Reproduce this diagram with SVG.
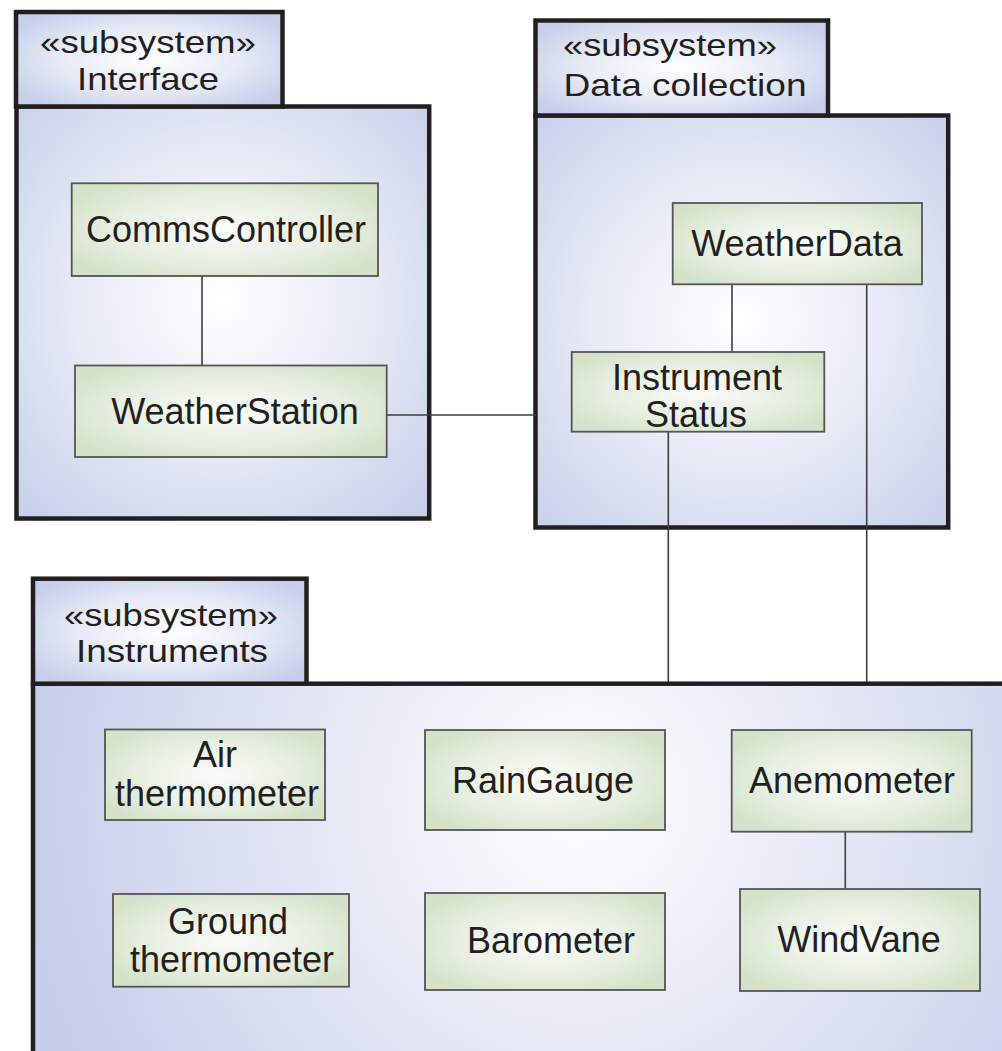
<svg xmlns="http://www.w3.org/2000/svg" width="1002" height="1051" viewBox="0 0 1002 1051">
  <defs>
    <radialGradient id="tabFill" cx="0.5" cy="0.5" r="0.62">
      <stop offset="0" stop-color="#ffffff"/>
      <stop offset="0.55" stop-color="#e6eaf6"/>
      <stop offset="1" stop-color="#c6cee9"/>
    </radialGradient>
    <radialGradient id="bodyInterface" gradientUnits="userSpaceOnUse" cx="222" cy="300" r="300">
      <stop offset="0" stop-color="#ffffff"/>
      <stop offset="0.5" stop-color="#e6eaf6"/>
      <stop offset="1" stop-color="#c6cee9"/>
    </radialGradient>
    <radialGradient id="bodyData" gradientUnits="userSpaceOnUse" cx="740" cy="320" r="300">
      <stop offset="0" stop-color="#ffffff"/>
      <stop offset="0.5" stop-color="#e6eaf6"/>
      <stop offset="1" stop-color="#c6cee9"/>
    </radialGradient>
    <radialGradient id="bodyInstr" gradientUnits="userSpaceOnUse" cx="580" cy="800" r="560">
      <stop offset="0" stop-color="#ffffff"/>
      <stop offset="0.5" stop-color="#e3e7f5"/>
      <stop offset="1" stop-color="#c6cee9"/>
    </radialGradient>
    <radialGradient id="nodeFill" cx="0.5" cy="0.5" r="0.6">
      <stop offset="0" stop-color="#fbfcf9"/>
      <stop offset="0.6" stop-color="#e7efe1"/>
      <stop offset="1" stop-color="#d4e2ca"/>
    </radialGradient>
    <style>
      .pkg { stroke: #231f20; stroke-width: 4.5; }
      .tab { fill: url(#tabFill); }
      .node { fill: url(#nodeFill); stroke: #555555; stroke-width: 1.8; }
      .lbl { font-family: "Liberation Sans", Arial, sans-serif; font-size: 36px; fill: #231f20; text-anchor: middle; }
      .tabLbl { font-size: 32px; }
      .link { stroke: #3d3d3d; stroke-width: 1.6; fill: none; }
    </style>
  </defs>

  <!-- Package: Interface -->
  <g id="pkg-interface">
    <rect class="pkg" x="16.5" y="106.5" width="412.7" height="412" fill="url(#bodyInterface)"/>
    <rect class="pkg tab" x="16" y="12" width="266.5" height="94.5"/>
    <text class="lbl tabLbl" x="148" y="53" textLength="216" lengthAdjust="spacingAndGlyphs">«subsystem»</text>
    <text class="lbl tabLbl" x="148" y="90" textLength="142" lengthAdjust="spacingAndGlyphs">Interface</text>
  </g>

  <!-- Package: Data collection -->
  <g id="pkg-data-collection">
    <rect class="pkg" x="535.5" y="115.5" width="412.7" height="412" fill="url(#bodyData)"/>
    <rect class="pkg tab" x="535.5" y="20.5" width="292.5" height="95"/>
    <text class="lbl tabLbl" x="670" y="56" textLength="214" lengthAdjust="spacingAndGlyphs">«subsystem»</text>
    <text class="lbl tabLbl" x="685" y="96" textLength="243" lengthAdjust="spacingAndGlyphs">Data collection</text>
  </g>

  <!-- Package: Instruments -->
  <g id="pkg-instruments">
    <rect class="pkg" x="33" y="683.7" width="1000" height="420" fill="url(#bodyInstr)"/>
    <rect class="pkg tab" x="33" y="578.7" width="273.5" height="105"/>
    <text class="lbl tabLbl" x="171" y="626" textLength="214" lengthAdjust="spacingAndGlyphs">«subsystem»</text>
    <text class="lbl tabLbl" x="172" y="662" textLength="192" lengthAdjust="spacingAndGlyphs">Instruments</text>
  </g>

  <!-- Connectors -->
  <g id="connectors">
    <line class="link" x1="202" y1="276" x2="202" y2="365"/>
    <line class="link" x1="387" y1="415" x2="536" y2="415"/>
    <line class="link" x1="732" y1="284" x2="732" y2="352"/>
    <line class="link" x1="668.3" y1="432" x2="668.3" y2="682"/>
    <line class="link" x1="866.7" y1="284" x2="866.7" y2="682"/>
    <line class="link" x1="845.3" y1="832" x2="845.3" y2="889"/>
  </g>

  <!-- Classes -->
  <g id="node-commscontroller">
    <rect class="node" x="71.7" y="183.3" width="306.3" height="92.7"/>
    <text class="lbl" x="226" y="242">CommsController</text>
  </g>
  <g id="node-weatherstation">
    <rect class="node" x="75" y="365.5" width="311.7" height="91.5"/>
    <text class="lbl" x="235" y="424">WeatherStation</text>
  </g>
  <g id="node-weatherdata">
    <rect class="node" x="672.7" y="203" width="249.3" height="81.3"/>
    <text class="lbl" x="797" y="256">WeatherData</text>
  </g>
  <g id="node-instrumentstatus">
    <rect class="node" x="571.7" y="352" width="252.6" height="79.7"/>
    <text class="lbl" x="697" y="390">Instrument</text>
    <text class="lbl" x="696" y="427">Status</text>
  </g>
  <g id="node-airthermometer">
    <rect class="node" x="105" y="729.5" width="220" height="90.5"/>
    <text class="lbl" x="215" y="767">Air</text>
    <text class="lbl" x="217" y="806">thermometer</text>
  </g>
  <g id="node-raingauge">
    <rect class="node" x="425" y="730" width="240" height="100"/>
    <text class="lbl" x="543" y="793">RainGauge</text>
  </g>
  <g id="node-anemometer">
    <rect class="node" x="731.7" y="730" width="240" height="101.7"/>
    <text class="lbl" x="852" y="793">Anemometer</text>
  </g>
  <g id="node-groundthermometer">
    <rect class="node" x="113" y="894" width="236" height="92.7"/>
    <text class="lbl" x="228" y="934">Ground</text>
    <text class="lbl" x="232" y="972">thermometer</text>
  </g>
  <g id="node-barometer">
    <rect class="node" x="425" y="893" width="240" height="97"/>
    <text class="lbl" x="551" y="953">Barometer</text>
  </g>
  <g id="node-windvane">
    <rect class="node" x="740" y="889" width="240" height="102"/>
    <text class="lbl" x="859" y="952">WindVane</text>
  </g>
</svg>
